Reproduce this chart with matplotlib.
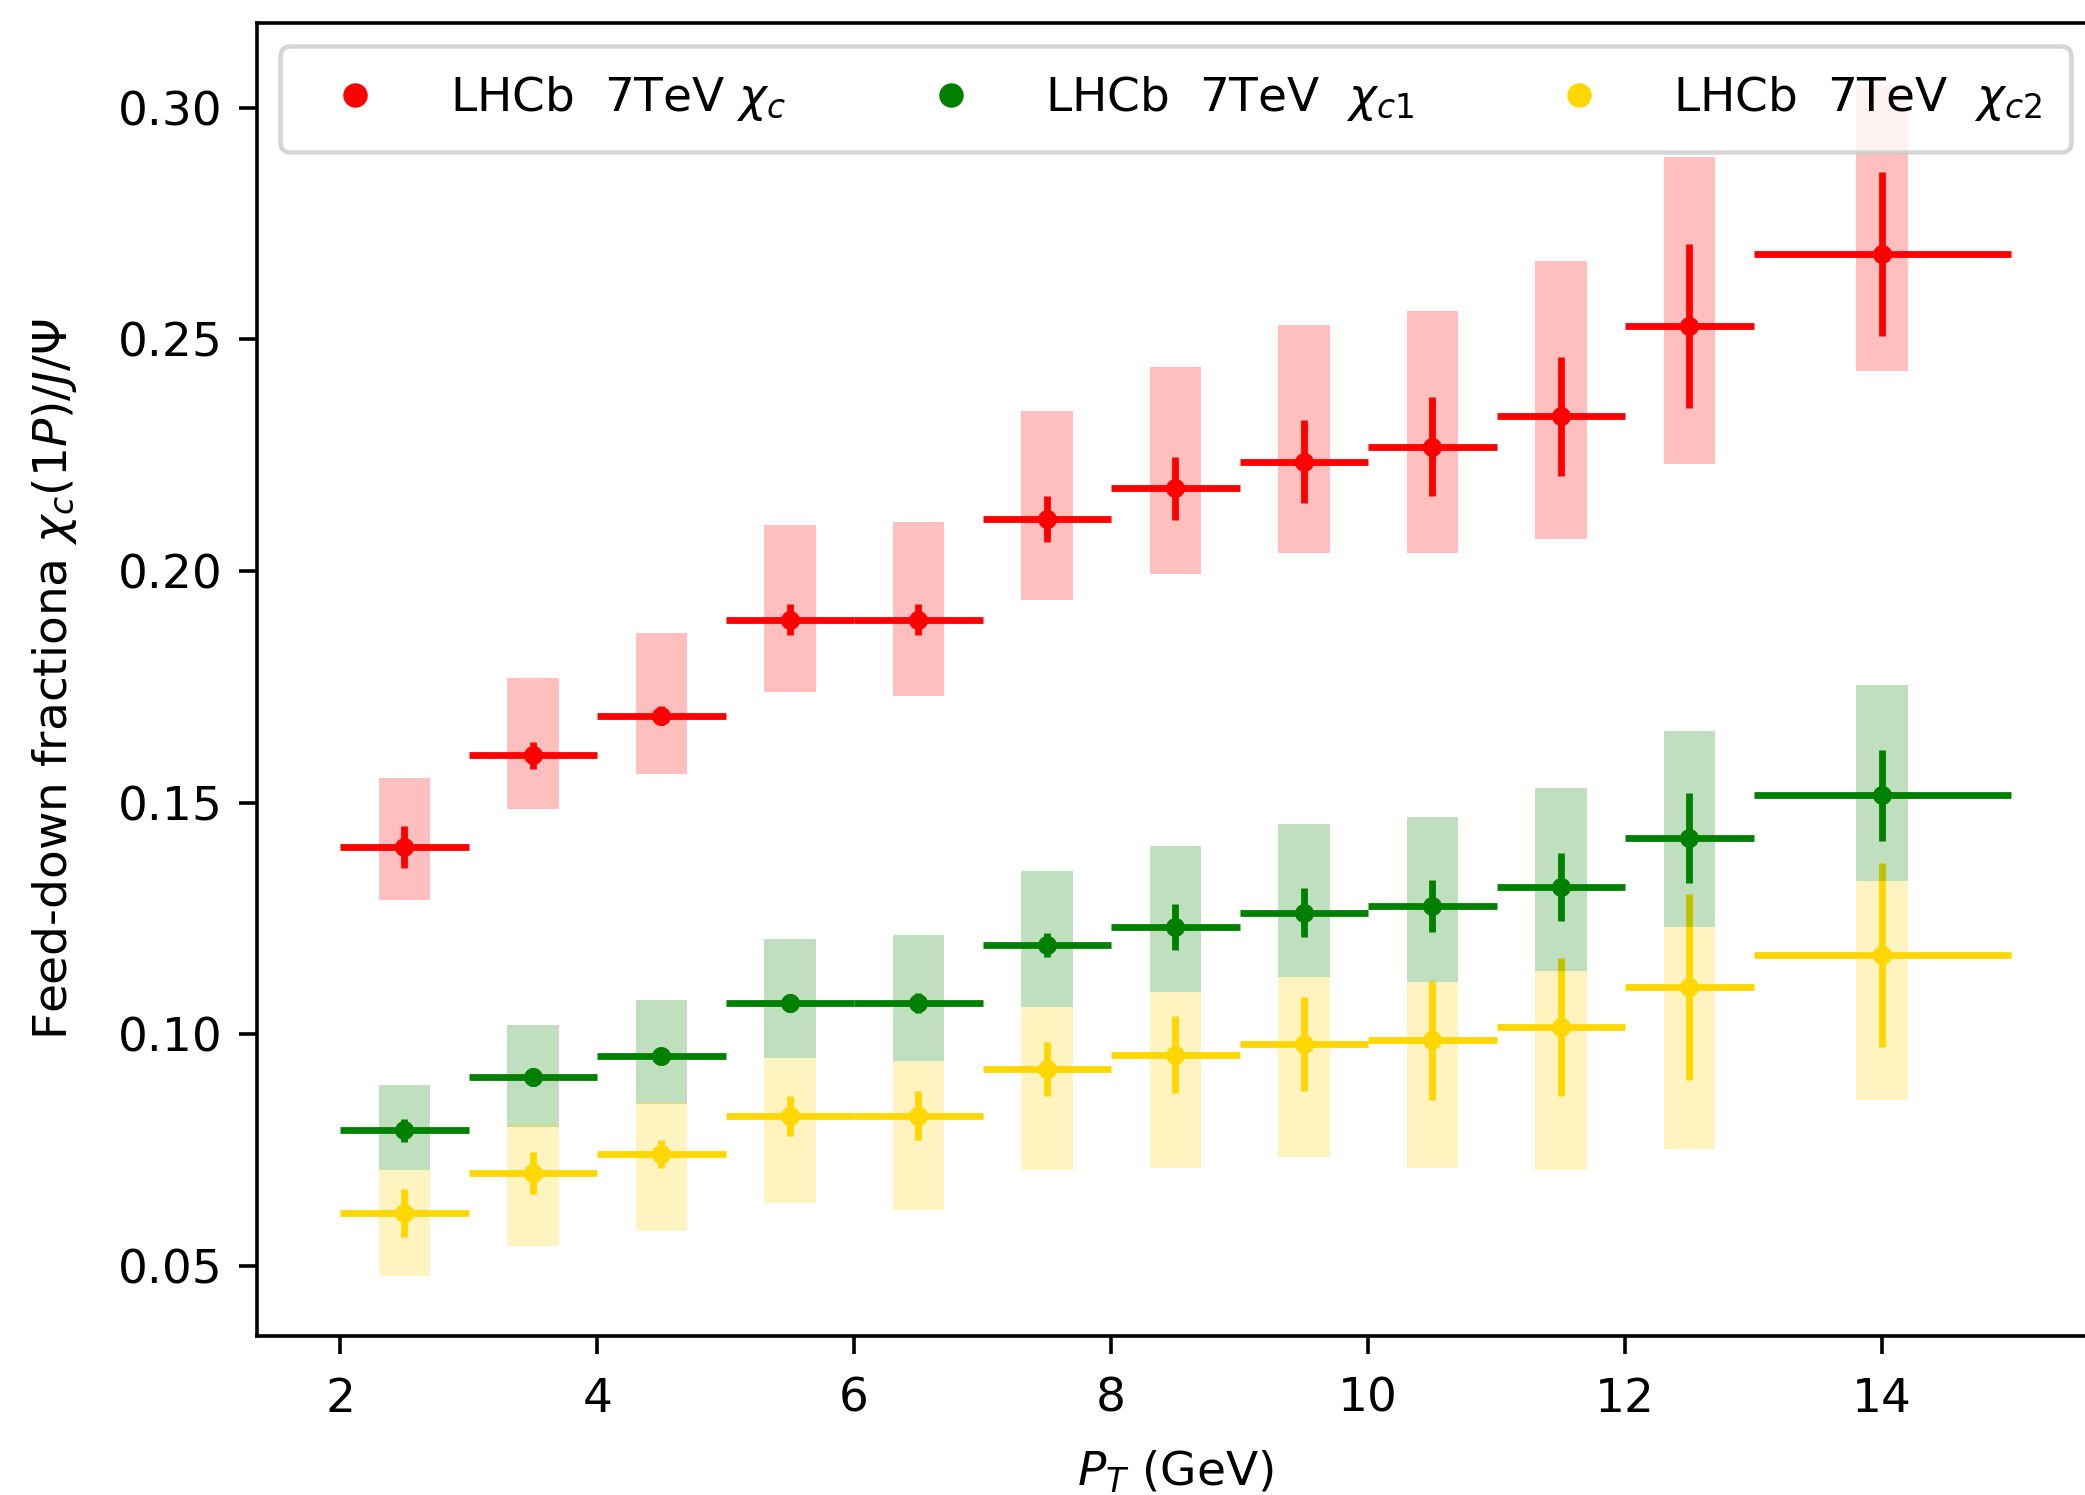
import matplotlib
matplotlib.use("Agg")
import matplotlib.pyplot as plt
from matplotlib.lines import Line2D
import numpy as np

# pT bins
pt_lo = [2, 3, 4, 5, 6, 7, 8, 9, 10, 11, 12, 13]
pt_hi = [3, 4, 5, 6, 7, 8, 9, 10, 11, 12, 13, 15]

# chi_c total
chic_val = [0.1404, 0.1602, 0.1688, 0.1895, 0.1895, 0.2113, 0.2179, 0.2236, 0.2268, 0.2334, 0.2529, 0.2684]
chic_stat = [0.0046, 0.0030, 0.0020, 0.0033, 0.0033, 0.0050, 0.0068, 0.0090, 0.0107, 0.0128, 0.0176, 0.0177]
chic_box_lo = [0.1289, 0.1487, 0.1562, 0.1740, 0.1731, 0.1938, 0.1993, 0.2038, 0.2038, 0.2070, 0.2231, 0.2432]
chic_box_hi = [0.1553, 0.1769, 0.1866, 0.2099, 0.2107, 0.2346, 0.2440, 0.2532, 0.2561, 0.2670, 0.2894, 0.3050]

# chi_c1
chic1_val = [0.0793, 0.0908, 0.0954, 0.1068, 0.1068, 0.1192, 0.1232, 0.1263, 0.1278, 0.1318, 0.1424, 0.1516]
chic1_stat = [0.0025, 0.0020, 0.0015, 0.0020, 0.0022, 0.0026, 0.0050, 0.0053, 0.0056, 0.0073, 0.0098, 0.0098]
chic1_box_lo = [0.0707, 0.0801, 0.0850, 0.0948, 0.0942, 0.1060, 0.1091, 0.1123, 0.1114, 0.1137, 0.1232, 0.1330]
chic1_box_hi = [0.0890, 0.1020, 0.1074, 0.1206, 0.1215, 0.1352, 0.1407, 0.1453, 0.1470, 0.1531, 0.1654, 0.1754]

# chi_c2
chic2_val = [0.0615, 0.0701, 0.0741, 0.0824, 0.0824, 0.0925, 0.0956, 0.0979, 0.0987, 0.1016, 0.1102, 0.1171]
chic2_stat = [0.0052, 0.0046, 0.0030, 0.0043, 0.0053, 0.0059, 0.0083, 0.0102, 0.0128, 0.0149, 0.0201, 0.0198]
chic2_box_lo = [0.0478, 0.0543, 0.0575, 0.0635, 0.0620, 0.0707, 0.0712, 0.0735, 0.0712, 0.0707, 0.0753, 0.0859]
chic2_box_hi = [0.0707, 0.0807, 0.0853, 0.0948, 0.0942, 0.1060, 0.1091, 0.1123, 0.1114, 0.1137, 0.1232, 0.1330]

labels = ['LHCb  7TeV $\\chi_c$', 'LHCb  7TeV  $\\chi_{c1}$', 'LHCb  7TeV  $\\chi_{c2}$']
colors = ['red', 'green', 'gold']

plt.rcParams['font.size'] = 10.4
plt.rcParams['xtick.major.size'] = 4
plt.rcParams['ytick.major.size'] = 4
plt.rcParams['xtick.major.pad'] = 5

DPI = 325.78
fig = plt.figure(figsize=(2085 / DPI, 1495 / DPI), dpi=DPI)
ax = fig.add_axes([0.1231, 0.1064, 0.8813, 0.8785])

pt_lo_a = np.array(pt_lo, float)
pt_hi_a = np.array(pt_hi, float)
xc = (pt_lo_a + pt_hi_a) / 2
xerr = (pt_hi_a - pt_lo_a) / 2

series = [
    (chic_val, chic_stat, chic_box_lo, chic_box_hi),
    (chic1_val, chic1_stat, chic1_box_lo, chic1_box_hi),
    (chic2_val, chic2_stat, chic2_box_lo, chic2_box_hi),
]

for (val, stat, blo, bhi), col in zip(series, colors):
    ax.errorbar(xc, val, xerr=xerr, yerr=stat, fmt='o', ms=3.2, color=col,
                elinewidth=1.5, capsize=0, zorder=2)

for (val, stat, blo, bhi), col in zip(series, colors):
    blo = np.array(blo)
    bhi = np.array(bhi)
    ax.bar(xc, bhi - blo, bottom=blo, width=0.4, color=col, alpha=0.25,
           linewidth=0, zorder=3)

ax.set_xlim(1.35, 15.65)
ax.set_ylim(0.0349, 0.3184)
ax.set_yticks([0.05, 0.10, 0.15, 0.20, 0.25, 0.30])
ax.set_xticks([2, 4, 6, 8, 10, 12, 14])

ax.set_xlabel('$P_T$ (GeV)', labelpad=6)
ax.set_ylabel('Feed-down fractiona $\\chi_c(1P)/J/\\Psi$', labelpad=8.5)

handles = [Line2D([], [], marker='o', ls='none', ms=4.4, color=c) for c in colors]
ax.legend(handles, labels, ncol=3, loc='upper center', mode='expand',
          borderpad=0.6, handletextpad=1.0)

fig.savefig('out.png', dpi=DPI)
